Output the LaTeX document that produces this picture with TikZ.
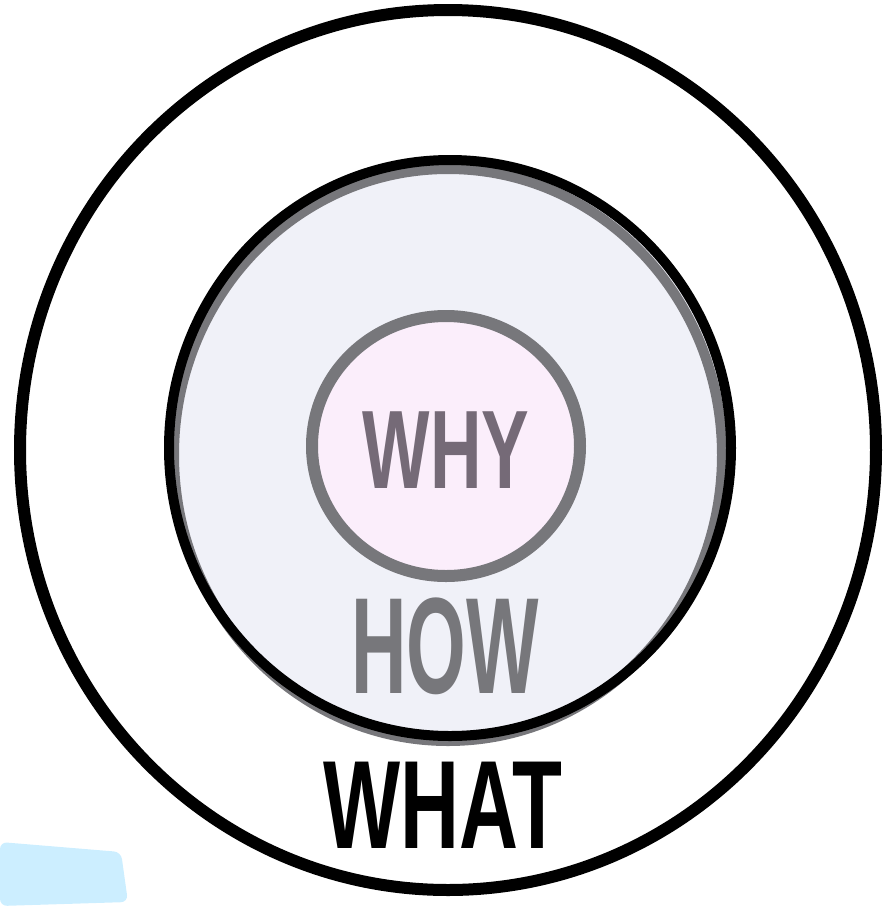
\documentclass[tikz,border=0pt]{standalone}
\usepackage{fontspec}
\setmainfont{Liberation Sans}
\usepackage{tikz}
\usetikzlibrary{positioning}

\definecolor{howfill}{HTML}{F0F1F8}
\definecolor{whyfill}{HTML}{FBEEFB}
\definecolor{ringgray}{HTML}{77777B}
\definecolor{whytext}{HTML}{756A77}
\definecolor{tabblue}{HTML}{CCEEFF}

\begin{document}
\begin{tikzpicture}[
  x=0.02cm, y=-0.02cm,
  ring/.style={line width=12*0.02cm},
  word/.style={inner sep=0pt,anchor=center},
]
\useasboundingbox (0,0) rectangle (885,907);
% blue tab in the corner
\fill[tabblue,rounded corners=4] (0,842) -- (121,852) -- (128,902) -- (0,906) -- cycle;
% outer ring (what)
\draw[ring,black] (448,450) ellipse [x radius=428, y radius=440];
% middle ring (how)
\fill[howfill] (450,450) ellipse [x radius=282, y radius=290];
\draw[ring,ringgray,line width=10*0.02cm] (448,455) ellipse [x radius=274, y radius=286];
\draw[ring,black,line width=10*0.02cm] (450,448) ellipse [x radius=281, y radius=288];
% inner ring (why)
\fill[whyfill] (446,446) ellipse [x radius=134, y radius=130];
\draw[ring,ringgray] (446,446) ellipse [x radius=134, y radius=130];
% labels
\node[word,text=whytext,xscale=0.64,font=\bfseries\fontsize{63.5}{64}\selectfont] (why) at (446,450) {WHY};
\node[word,text=ringgray,xscale=0.56,font=\bfseries\fontsize{78}{78}\selectfont] (how) at (445,646) {HOW};
\node[word,text=black,xscale=0.65,font=\bfseries\fontsize{71.5}{72}\selectfont] (what) at (443,805) {WHAT};
\end{tikzpicture}
\end{document}
